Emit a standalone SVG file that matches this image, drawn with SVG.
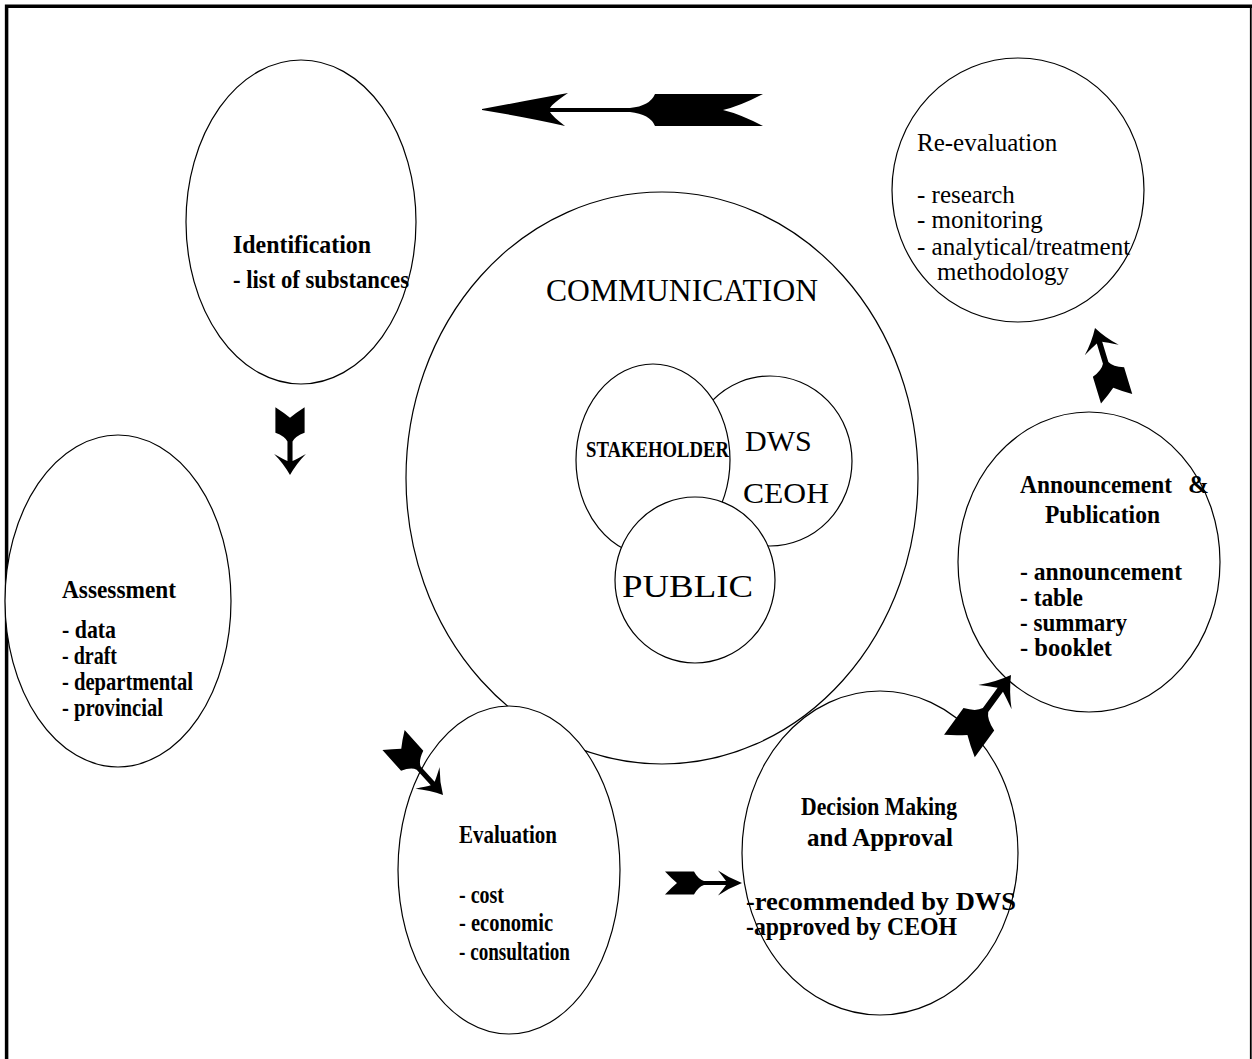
<svg xmlns="http://www.w3.org/2000/svg" width="1252" height="1059" viewBox="0 0 1252 1059">
<style>
.n{fill:#fff;stroke:#000;stroke-width:1.2}
.t{font-family:"Liberation Serif","Times New Roman",serif;fill:#000}
.b{font-weight:bold;font-size:25px}
.r{font-size:25px}
.ar{fill:#000;stroke:none}
</style>
<defs>
<path id="arr" d="M0,0 Q-13,-5 -24,-12.5 Q-18,-5 -16,-2 L-38,-2 Q-44,-4 -48,-11.5 L-77,-11.5 Q-71,-5 -65,0 Q-71,5 -77,11.5 L-48,11.5 Q-44,4 -38,2 L-16,2 Q-18,5 -24,12.5 Q-13,5 0,0 Z"/>
</defs>
<rect width="1252" height="1059" fill="#fff"/>
<g id="border" fill="none" stroke="#000">
<path d="M6.6,1059 V6.3 H1252" stroke-width="3.5"/>
<path d="M1250.8,6 V1059" stroke-width="1.8"/>
</g>
<g id="communication">
<ellipse class="n" cx="662" cy="478" rx="256" ry="286"/>
<text class="t" x="546" y="301" font-size="31" textLength="272" lengthAdjust="spacingAndGlyphs">COMMUNICATION</text>
</g>
<g id="dws-ceoh">
<ellipse class="n" cx="770" cy="461" rx="82" ry="85"/>
<text class="t" x="745" y="451" font-size="30">DWS</text>
<text class="t" x="743" y="503" font-size="30" textLength="86" lengthAdjust="spacingAndGlyphs">CEOH</text>
</g>
<g id="stakeholder">
<ellipse class="n" cx="653" cy="460" rx="77" ry="96"/>
<text class="t" transform="translate(586,457) scale(1,1.2)" x="0" y="0" font-size="18.5" font-weight="bold" textLength="143" lengthAdjust="spacingAndGlyphs">STAKEHOLDER</text>
</g>
<g id="public">
<ellipse class="n" cx="695" cy="580" rx="80" ry="83"/>
<text class="t" x="622" y="597" font-size="32" textLength="131" lengthAdjust="spacingAndGlyphs">PUBLIC</text>
</g>
<g id="identification">
<ellipse class="n" cx="301" cy="222" rx="115" ry="162"/>
<text class="t b" x="233" y="253" textLength="138" lengthAdjust="spacingAndGlyphs">Identification</text>
<text class="t b" x="233" y="288" textLength="176" lengthAdjust="spacingAndGlyphs">- list of substances</text>
</g>
<g id="assessment">
<ellipse class="n" cx="118" cy="601" rx="113" ry="166"/>
<text class="t b" x="62" y="598" textLength="114" lengthAdjust="spacingAndGlyphs">Assessment</text>
<text class="t b" x="62" y="638" textLength="54" lengthAdjust="spacingAndGlyphs">- data</text>
<text class="t b" x="62" y="664" textLength="55" lengthAdjust="spacingAndGlyphs">- draft</text>
<text class="t b" x="62" y="690" textLength="131" lengthAdjust="spacingAndGlyphs">- departmental</text>
<text class="t b" x="62" y="716" textLength="101" lengthAdjust="spacingAndGlyphs">- provincial</text>
</g>
<g id="evaluation">
<ellipse class="n" cx="509" cy="870" rx="111" ry="164"/>
<text class="t b" x="459" y="843" textLength="98" lengthAdjust="spacingAndGlyphs">Evaluation</text>
<text class="t b" x="459" y="903" textLength="45" lengthAdjust="spacingAndGlyphs">- cost</text>
<text class="t b" x="459" y="931" textLength="94" lengthAdjust="spacingAndGlyphs">- economic</text>
<text class="t b" x="459" y="960" textLength="111" lengthAdjust="spacingAndGlyphs">- consultation</text>
</g>
<g id="decision">
<ellipse class="n" cx="880" cy="853" rx="138" ry="162"/>
<text class="t b" x="801" y="815" textLength="156" lengthAdjust="spacingAndGlyphs">Decision Making</text>
<text class="t b" x="807" y="846" textLength="146" lengthAdjust="spacingAndGlyphs">and Approval</text>
<text class="t b" x="746" y="910" textLength="270" lengthAdjust="spacingAndGlyphs">-recommended by DWS</text>
<text class="t b" x="746" y="935" textLength="211" lengthAdjust="spacingAndGlyphs">-approved by CEOH</text>
</g>
<g id="announcement">
<ellipse class="n" cx="1089" cy="562" rx="131" ry="150"/>
<text class="t b" x="1020" y="493"><tspan textLength="152" lengthAdjust="spacingAndGlyphs">Announcement</tspan> <tspan x="1188">&amp;</tspan></text>
<text class="t b" x="1045" y="523" textLength="115" lengthAdjust="spacingAndGlyphs">Publication</text>
<text class="t b" x="1020" y="580" textLength="162" lengthAdjust="spacingAndGlyphs">- announcement</text>
<text class="t b" x="1020" y="606" textLength="63" lengthAdjust="spacingAndGlyphs">- table</text>
<text class="t b" x="1020" y="631" textLength="107" lengthAdjust="spacingAndGlyphs">- summary</text>
<text class="t b" x="1020" y="656" textLength="92" lengthAdjust="spacingAndGlyphs">- booklet</text>
</g>
<g id="reevaluation">
<ellipse class="n" cx="1018" cy="190" rx="126" ry="132"/>
<text class="t r" x="917" y="151">Re-evaluation</text>
<text class="t r" x="917" y="203">- research</text>
<text class="t r" x="917" y="228">- monitoring</text>
<text class="t r" x="917" y="255">- analytical/treatment</text>
<text class="t r" x="937" y="280">methodology</text>
</g>
<g id="connectors" class="ar">
<path d="M482,109 Q530,100 568,93 Q552,104 550,108 L630,108 Q650,106 655,94 L763,94 Q740,106 723,110 Q740,114 763,126 L655,126 Q650,114 630,112 L550,112 Q552,116 565,126 Q530,118 482,110 Z"/>
<use href="#arr" transform="translate(290,475) rotate(90) scale(0.88,1.27)"/>
<use href="#arr" transform="translate(443,795) rotate(48) scale(0.96,1.3)"/>
<use href="#arr" transform="translate(742,883)"/>
<use href="#arr" transform="translate(1011,675) rotate(-54) scale(1.14,1.65)"/>
<use href="#arr" transform="translate(1095,328) rotate(-107) scale(0.96,1.42)"/>
</g>
</svg>
